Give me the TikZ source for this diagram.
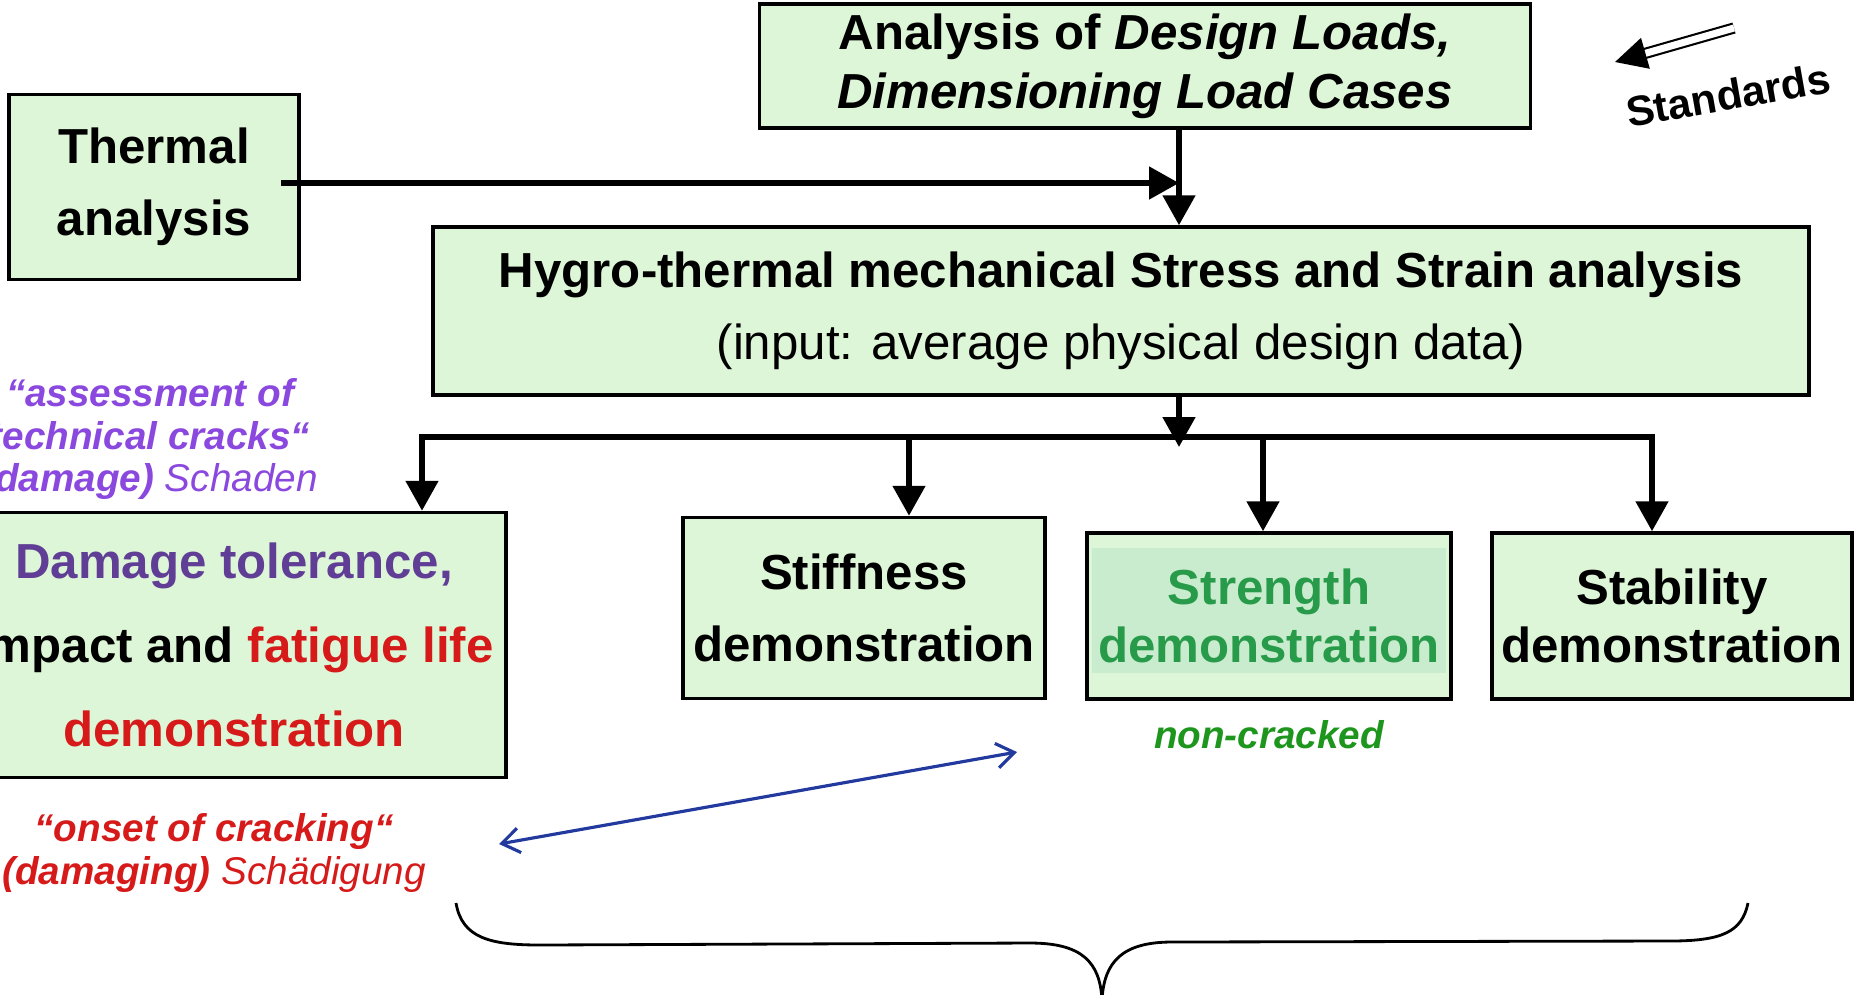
\documentclass[tikz,border=0pt]{standalone}
\usepackage{fontspec}
\setmainfont{Liberation Sans}
\usetikzlibrary{arrows.meta}
\usetikzlibrary{positioning}

\definecolor{boxgreen}{RGB}{222,246,216}
\definecolor{strengthfill}{RGB}{202,236,206}
\definecolor{strengthgreen}{RGB}{40,155,75}
\definecolor{dtpurple}{RGB}{96,62,150}
\definecolor{crackpurple}{RGB}{138,72,222}
\definecolor{crackred}{RGB}{214,26,26}
\definecolor{okgreen}{RGB}{30,150,30}
\definecolor{linkblue}{RGB}{34,58,158}

\begin{document}
\begin{tikzpicture}[x=0.1mm,y=-0.1mm,
  box/.style={draw,line width=1pt,fill=boxgreen,align=center,inner sep=0pt,
    font=\fontsize{14}{20.5}\selectfont\bfseries},
  flow/.style={line width=1.6pt,-{Triangle[length=8.5pt,width=9pt]}},
  note/.style={align=center,inner sep=0pt,font=\fontsize{11}{12.2}\selectfont\bfseries\itshape}]
\useasboundingbox (0,0) rectangle (1854,994);

% boxes
\node[box,minimum width=77.1mm,minimum height=12.4mm,font=\fontsize{14}{16.8}\selectfont\bfseries]
  (loads) at (1145,66) {Analysis of \textit{Design Loads,}\\\textit{Dimensioning Load Cases}};
\node[box,minimum width=29mm,minimum height=18.5mm] (thermal) at (154,187) {Thermal\\analysis};
\node[box,minimum width=137.6mm,minimum height=16.8mm] (hygro) at (1121,311)
  {Hygro-thermal mechanical Stress and Strain analysis\\{\mdseries(input: average physical design data)}};
\node[box,minimum width=54.4mm,minimum height=26.5mm,font=\fontsize{14}{24}\selectfont\bfseries]
  (damage) at (234,645)
  {\textcolor{dtpurple}{Damage tolerance,}\\impact and \textcolor{crackred}{fatigue life}\\\textcolor{crackred}{demonstration}};
\node[box,minimum width=36.2mm,minimum height=18.1mm] (stiffness) at (864,608) {Stiffness\\demonstration};
\node[box,minimum width=36.4mm,minimum height=16.6mm,font=\fontsize{14}{16.5}\selectfont\bfseries,
  text=strengthgreen,
  path picture={\fill[strengthfill] ([xshift=0.5mm,yshift=-1.5mm]path picture bounding box.north west)
    rectangle ([xshift=-0.5mm,yshift=2.6mm]path picture bounding box.south east);}]
  (strength) at (1269,616) {Strength\\demonstration};
\node[box,minimum width=36mm,minimum height=16.6mm,font=\fontsize{14}{16.5}\selectfont\bfseries]
  (stability) at (1672,616) {Stability\\demonstration};

% side notes
\node[note,text=crackpurple] (assess) at (150,439)
  {“assessment of\\technical cracks“\\(damage) {\mdseries Schaden}};
\node[note,text=crackred] (onset) at (214,853)
  {“onset of cracking“\\(damaging) {\mdseries Schädigung}};
\node[note,text=okgreen,below=1.9mm of strength] (noncracked) {non-cracked};
\node[font=\fontsize{12}{14}\selectfont\bfseries,rotate=10] (standards) at (1728,95) {Standards};

% flow
\coordinate (join) at (1179,183);
\coordinate (split) at (1179,437);
\draw[flow] ([xshift=-2mm]thermal.east |- join) -- (join);
\draw[flow] (loads.south -| join) -- (hygro.north -| join);
\draw[flow] (hygro.south -| split) -- ([yshift=-1mm]split);
\draw[flow] (split) -| ([xshift=18.8mm]damage.north);
\draw[flow] (split) -| ([xshift=-2mm]stability.north);
\draw[flow] ([xshift=4.5mm]stiffness.north |- split) -- ([xshift=4.5mm]stiffness.north);
\draw[flow] ([xshift=-0.6mm]strength.north |- split) -- ([xshift=-0.6mm]strength.north);

% standards input
\coordinate (stdtail) at (1734,28);
\coordinate (stdtip) at (1615,62);
\draw[double,double distance=2pt,line width=0.6pt,-{Triangle[length=9pt,width=9pt]}] (stdtail) -- (stdtip);

% cracked / non-cracked link
\coordinate (onsetend) at (499,844);
\coordinate (crackend) at (1017,752);
\draw[linkblue,line width=0.9pt,{Straight Barb[length=5pt,width=7pt]}-{Straight Barb[length=5pt,width=7pt]}]
  (onsetend) -- (crackend);

% brace
\draw[line width=0.8pt] (456,903) .. controls (462,938) and (490,945) .. (540,945) -- (1030,943)
  .. controls (1082,943) and (1100,962) .. (1102,1000);
\draw[line width=0.8pt] (1102,1000) .. controls (1104,962) and (1122,942) .. (1172,942) -- (1670,941)
  .. controls (1722,941) and (1742,932) .. (1748,903);
\end{tikzpicture}
\end{document}
